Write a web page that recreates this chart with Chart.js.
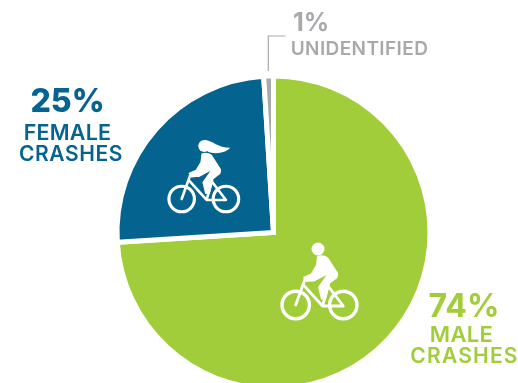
<!DOCTYPE html>
<html>
<head>
<meta charset="utf-8">
<style>
html, body { margin: 0; padding: 0; background: #fff; width: 518px; height: 383px; overflow: hidden; }
#wrap { position: absolute; left: 0; top: 0; width: 518px; height: 383px; overflow: hidden; }
canvas { position: absolute; left: 0; top: 0; }
</style>
</head>
<body>
<div id="wrap"><canvas id="pie" width="518" height="465"></canvas></div>
<script src="https://cdn.jsdelivr.net/npm/chart.js@4/dist/chart.umd.min.js"></script>
<script>
const categories = ['Male crashes', 'Female crashes', 'Unidentified'];
const shares = [74, 25, 1];
const colors = ['#a2cd3a', '#05638f', '#a7a9ac'];

const FONT = '"Inter", "Open Sans", sans-serif';

// text, center x, baseline y, weight, size, letter spacing, color
const labels = [
    ['25%', 67.5, 112, 800, 32, 0, colors[1]],
    ['FEMALE', 67.5, 140, 600, 21.5, 0.2, colors[1]],
    ['CRASHES', 71, 161, 600, 21, 0.6, colors[1]],
    ['1%', 311, 31, 700, 25, 0, colors[2]],
    ['UNIDENTIFIED', 359.5, 55, 600, 19, 0.4, colors[2]],
    ['74%', 464, 317, 700, 32, 0, colors[0]],
    ['MALE', 461.5, 342, 600, 22, 0.3, colors[0]],
    ['CRASHES', 464.5, 363, 600, 21, 1.2, colors[0]]
];

function drawRider(ctx, x, y, scale, female) {
    ctx.save();
    ctx.translate(x, y);
    ctx.scale(scale, scale);
    ctx.fillStyle = '#fff';
    ctx.strokeStyle = '#fff';
    ctx.lineCap = 'round';
    ctx.lineJoin = 'round';

    ctx.lineWidth = 3.4;
    [-23.8, 23.8].forEach(wx => {
        ctx.beginPath();
        ctx.arc(wx, 0, 13.7, 0, Math.PI * 2);
        ctx.stroke();
    });

    ctx.lineWidth = 2.8;
    const frame = new Path2D('M-23.8 0 L-14.5 -26 L-6 -25 M-16 -20 L3 1 L23.8 1 L7 -21 M3 1 L9 -20');
    ctx.stroke(frame);

    const body = new Path2D('M-2.5 -49 Q4 -51 8.5 -47.5 L18.5 -32 Q19 -26.5 15 -25 L10 -21 L6.5 -5.5 L1.5 -5.5 L-1.5 -18 L7 -30 L-4.5 -24 L-13.5 -23 L-16.5 -28 L-8.5 -31.5 L-3.5 -40 Z');
    ctx.fill(body);

    ctx.beginPath();
    ctx.arc(female ? 0.5 : -1.5, female ? -57 : -56, 6.5, 0, Math.PI * 2);
    ctx.fill();
    if (female) {
        const hair = new Path2D('M1 -63.5 C10 -63 15 -55 28.3 -55 C24 -49.5 12 -47.5 4 -51 Z');
        ctx.fill(hair);
    }
    ctx.restore();
}

const extras = {
    id: 'extras',
    afterDraw(chart) {
        const ctx = chart.ctx;
        const arc = chart.getDatasetMeta(0).data[0];
        ctx.save();

        // icons sit at fixed offsets from the pie center
        drawRider(ctx, arc.x + 46, arc.y + 72.5, 1, false);
        drawRider(ctx, arc.x - 69.7, arc.y - 33.5, 0.93, true);

        // leader line to the 1% label
        ctx.strokeStyle = colors[2];
        ctx.lineWidth = 1.2;
        ctx.beginPath();
        ctx.moveTo(268.3, 71);
        ctx.lineTo(268.3, 36);
        ctx.lineTo(285.5, 36);
        ctx.stroke();

        ctx.textAlign = 'center';
        ctx.textBaseline = 'alphabetic';
        labels.forEach(([text, x, y, weight, size, spacing, color]) => {
            ctx.font = `${weight} ${size}px ${FONT}`;
            ctx.letterSpacing = spacing + 'px';
            ctx.fillStyle = color;
            ctx.fillText(text, x, y);
        });
        ctx.restore();
    }
};

new Chart(document.getElementById('pie'), {
    type: 'pie',
    data: {
        labels: categories,
        datasets: [{
            data: shares,
            backgroundColor: colors,
            borderColor: '#fff',
            borderWidth: 5,
            borderJoinStyle: 'miter',
            radius: 156.5
        }]
    },
    options: {
        responsive: false,
        animation: false,
        layout: { padding: { left: 29 } },
        plugins: {
            legend: { display: false },
            tooltip: { enabled: false }
        }
    },
    plugins: [extras]
});
</script>
</body>
</html>
